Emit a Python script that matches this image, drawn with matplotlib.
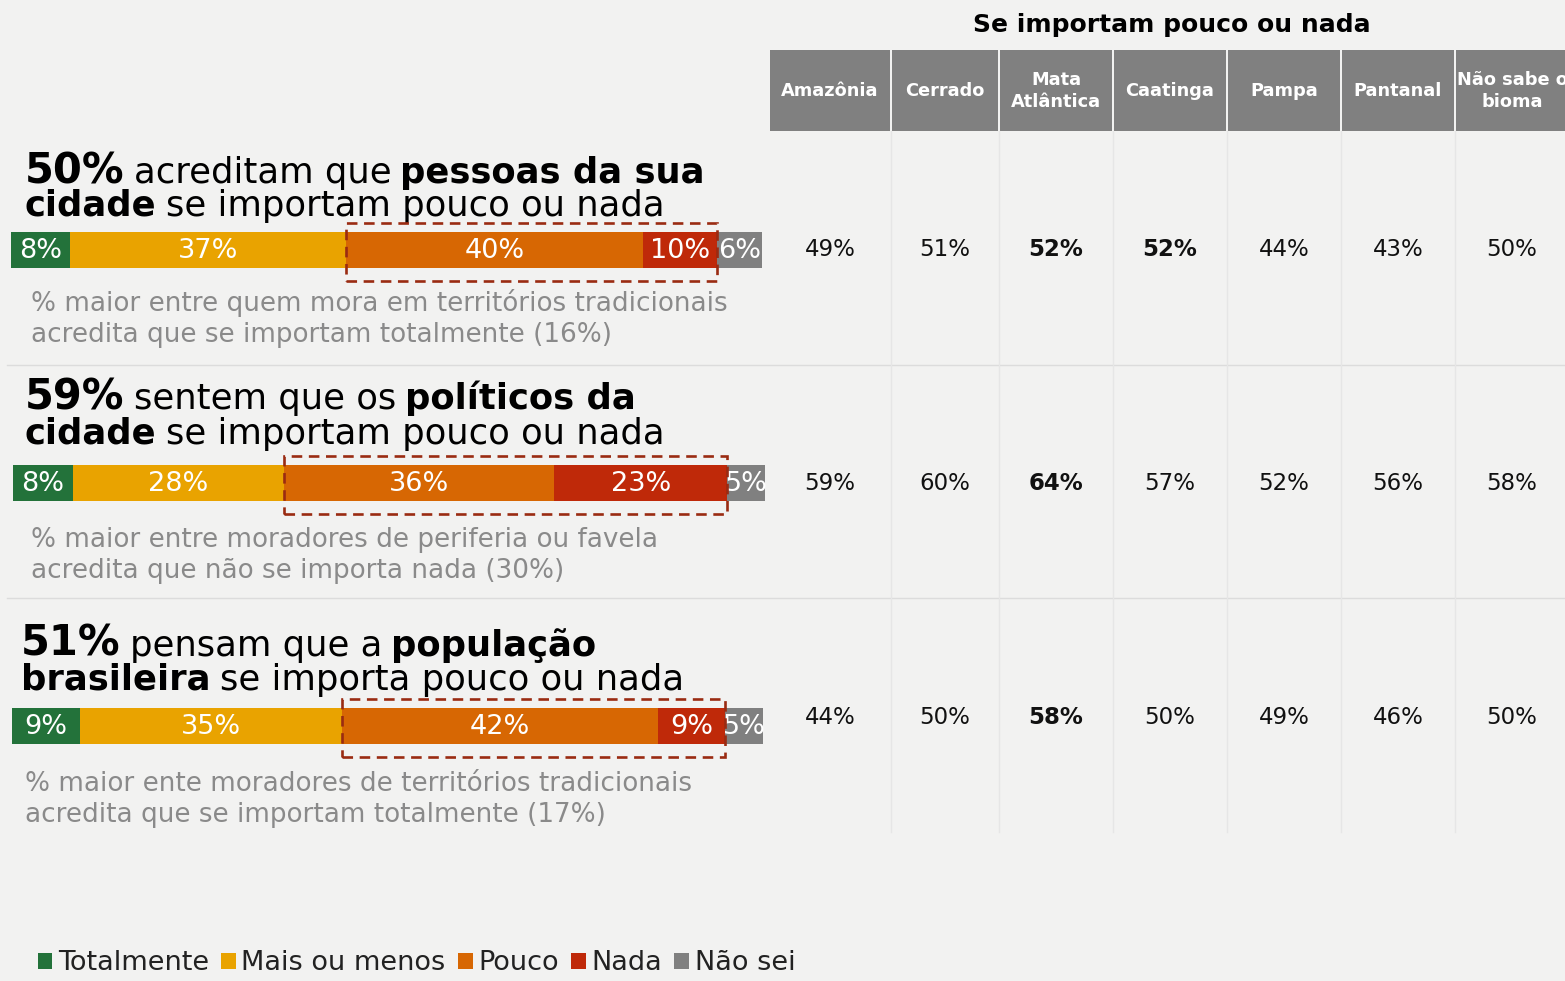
import matplotlib
matplotlib.use("Agg")
import matplotlib.pyplot as plt
from matplotlib.patches import Rectangle
import numpy as np

W, H = 1565, 981

# ---------------- data ----------------
categories = ["Totalmente", "Mais ou menos", "Pouco", "Nada", "Não sei"]
colors = ["#23723a", "#e9a300", "#d76703", "#bf2909", "#808080"]

row1_vals = [8, 37, 40, 10, 6]
row2_vals = [8, 28, 36, 23, 5]
row3_vals = [9, 35, 42, 9, 5]

headline_pct = ["50%", "59%", "51%"]
headline_l1 = [("acreditam que", "pessoas da sua"),
               ("sentem que os", "políticos da"),
               ("pensam que a", "população")]
headline_l2 = [("cidade", "se importam pouco ou nada"),
               ("cidade", "se importam pouco ou nada"),
               ("brasileira", "se importa pouco ou nada")]
notes = [("% maior entre quem mora em territórios tradicionais",
          "acredita que se importam totalmente (16%)"),
         ("% maior entre moradores de periferia ou favela",
          "acredita que não se importa nada (30%)"),
         ("% maior ente moradores de territórios tradicionais",
          "acredita que se importam totalmente (17%)")]

table_title = "Se importam pouco ou nada"
biomes = ["Amazônia", "Cerrado", "Mata\nAtlântica", "Caatinga", "Pampa", "Pantanal", "Não sabe o\nbioma"]
biome_row1 = [49, 51, 52, 52, 44, 43, 50]
biome_row2 = [59, 60, 64, 57, 52, 56, 58]
biome_row3 = [44, 50, 58, 50, 49, 46, 50]
bold_row1 = [False, False, True, True, False, False, False]
bold_row2 = [False, False, True, False, False, False, False]
bold_row3 = [False, False, True, False, False, False, False]

# ---------------- layout ----------------
FONT = "DejaVu Sans"
BG = "#f2f2f1"

fig = plt.figure(figsize=(W / 100, H / 100), dpi=100, facecolor=BG)
ax = fig.add_axes([0, 0, 1, 1])
ax.set_xlim(0, W)
ax.set_ylim(H, 0)
ax.axis("off")
ax.set_facecolor(BG)
renderer = fig.canvas.get_renderer()


def rich(x, y, parts, gap):
    for txt, weight, size in parts:
        t = ax.text(x, y, txt, fontsize=size, fontweight=weight, family=FONT,
                    va="baseline", ha="left", color="#000000")
        bb = t.get_window_extent(renderer)
        x = x + bb.width + gap


rows = [row1_vals, row2_vals, row3_vals]
bar_x = [11, 13, 12]
bar_w = [751, 752, 751]
bar_yc = [250, 483, 726]
bar_h = 36
head_x = [25, 25, 21]
head_base = [(183, 216), (409, 444), (656, 690)]
note_x = [31, 31, 25]
note_base = [(311, 342), (547, 578), (791, 822)]

handles = None
for i, vals in enumerate(rows):
    x0 = bar_x[i]
    y0 = bar_yc[i] + bar_h / 2
    bax = fig.add_axes([x0 / W, 1 - y0 / H, bar_w[i] / W, bar_h / H])
    bax.set_xlim(0, sum(vals))
    bax.set_ylim(-0.5, 0.5)
    bax.axis("off")
    lefts = np.concatenate([[0], np.cumsum(vals)[:-1]])
    hs = []
    for j, v in enumerate(vals):
        b = bax.barh(0, v, left=lefts[j], height=1, color=colors[j], label=categories[j])
        hs.append(b)
        bax.text(lefts[j] + v / 2, -0.02, f"{v}%", ha="center", va="center",
                 color="white", fontsize=19.5, family=FONT)
    if handles is None:
        handles = hs
    # dashed box around Pouco + Nada
    bx = lefts[2]
    bw = vals[2] + vals[3]
    rect = Rectangle((bx, -0.86), bw, 1.6, fill=False, edgecolor="#9a2b12",
                     linewidth=1.9, linestyle=(0, (4, 2.5)), clip_on=False, zorder=5)
    bax.add_patch(rect)

    # headline
    pct = headline_pct[i]
    a, b = headline_l1[i]
    c, d = headline_l2[i]
    rich(head_x[i], head_base[i][0], [(pct, "bold", 30), (a, "normal", 25.5), (b, "bold", 25.5)], 9)
    rich(head_x[i], head_base[i][1], [(c, "bold", 25.5), (d, "normal", 25.5)], 9)
    # note
    ax.text(note_x[i], note_base[i][0], notes[i][0], fontsize=18.9, family=FONT,
            color="#8a8a8a", va="baseline")
    ax.text(note_x[i], note_base[i][1], notes[i][1], fontsize=18.9, family=FONT,
            color="#8a8a8a", va="baseline")

# separators
for y in [365, 598]:
    ax.plot([7, W], [y, y], color="#dcdcdc", lw=1)

# table
col_edges = [769, 891, 999, 1113, 1227, 1341, 1455, 1571]
ax.text(1172, 25, table_title, ha="center", va="center", fontsize=18,
        family=FONT, fontweight="bold")
for k in range(len(biomes)):
    l, r = col_edges[k], col_edges[k + 1]
    ax.add_patch(Rectangle((l + 1, 50), r - l - 2, 81, color="#808080", lw=0))
    ax.text((l + r) / 2 if k < 6 else 1512, 91, biomes[k], ha="center", va="center",
            color="white", fontsize=12.8, family=FONT, fontweight="bold",
            linespacing=1.25, clip_on=True)
    if k > 0:
        ax.plot([l, l], [131, 832], color="#e6e6e6", lw=1)

centers = [830, 945, 1056, 1170, 1284, 1398, 1512]
for vals, bolds, yc in [(biome_row1, bold_row1, 250), (biome_row2, bold_row2, 483),
                        (biome_row3, bold_row3, 717)]:
    for k, v in enumerate(vals):
        ax.text(centers[k], yc, f"{v}%", ha="center", va="center", fontsize=16.5,
                family=FONT, fontweight="bold" if bolds[k] else "normal", color="#111111")

# legend
leg = ax.legend(handles=[h[0] for h in handles], labels=categories, loc="lower left",
                bbox_to_anchor=(24 / W, -9 / H), ncol=5, frameon=False,
                prop={"family": FONT, "size": 19.5},
                handlelength=0.55, handleheight=0.55, handletextpad=0.2,
                columnspacing=0.45, borderpad=0, labelcolor="#222222")

fig.savefig("out.png", dpi=100, facecolor=BG)
